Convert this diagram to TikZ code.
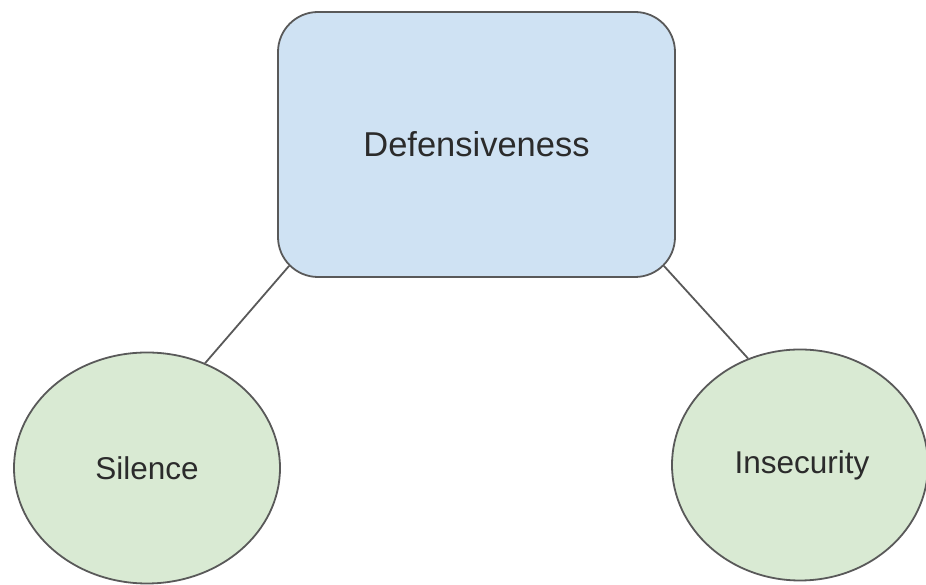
\documentclass[tikz,border=0pt]{standalone}
\usepackage{fontspec}
\setmainfont{Liberation Sans}
\usetikzlibrary{shapes.geometric}
\definecolor{boxblue}{HTML}{CFE2F3}
\definecolor{circgreen}{HTML}{D9EAD3}
\definecolor{edgegray}{HTML}{595959}
\definecolor{txt}{HTML}{2B2B2B}
\begin{document}
\begin{tikzpicture}[x=1pt,y=1pt,
  mainbox/.style={draw=edgegray, line width=1.8pt, fill=boxblue, rounded corners=40pt,
    minimum width=397pt, minimum height=265pt, inner sep=0pt, text=txt, font=\fontsize{34.5}{40}\selectfont},
  leaf/.style={ellipse, draw=edgegray, line width=1.8pt, fill=circgreen, inner sep=0pt,
    text=txt, font=\fontsize{31.5}{36}\selectfont},
  link/.style={draw=edgegray, line width=1.8pt}]
\useasboundingbox (0,0) rectangle (926,585);
\node[mainbox] (d) at (476.5,440.5) {Defensiveness};
\node[leaf, minimum width=266pt, minimum height=231pt] (s) at (147,117) {Silence};
\node[leaf, minimum width=256pt, minimum height=231pt] (i) at (800,120) {\hspace*{4pt}Insecurity};
\draw[link] ([shift={(12pt,12pt)}]d.south west) -- (s.61);
\draw[link] ([shift={(-12pt,12pt)}]d.south east) -- (i.116);
\end{tikzpicture}
\end{document}
